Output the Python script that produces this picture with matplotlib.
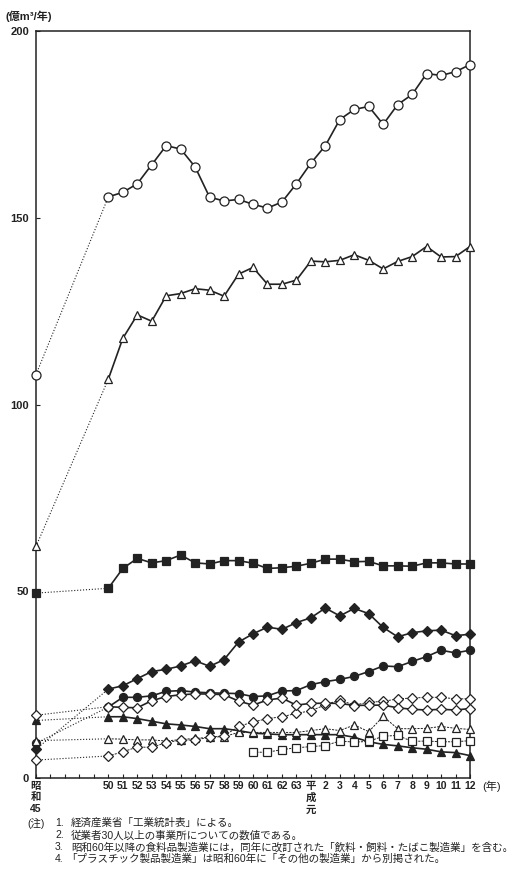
import matplotlib

matplotlib.use("Agg")
import matplotlib.pyplot as plt  # noqa: E402

plt.rcParams["font.family"] = ["Liberation Sans", "Noto Sans CJK JP"]

# x positions: Showa 45 (1970) then Showa 50 (1975) .. Heisei 12 (2000)
YEAR_START = 1970
YEARS = list(range(1975, 2001))
YEARS_PLASTIC = list(range(1985, 2001))

# values (億m³/年); first value = 昭和45, rest = 50..12
circle_open = [108.0, 155.6, 156.8, 159.1, 164.2, 169.3, 168.4, 163.6, 155.5, 154.5, 154.9,
               153.6, 152.6, 154.2, 159.1, 164.6, 169.3, 176.3, 179.0, 179.8, 175.0, 180.3,
               183.0, 188.6, 188.1, 189.1, 191.0]
tri_open_hi = [62.0, 106.8, 117.7, 124.0, 122.3, 129.1, 129.7, 131.0, 130.6, 129.0, 134.9,
               136.7, 132.2, 132.2, 133.3, 138.4, 138.2, 138.6, 140.1, 138.6, 136.3, 138.3,
               139.6, 142.3, 139.5, 139.6, 142.3]
square_filled = [49.5, 50.8, 56.1, 58.8, 57.6, 58.2, 59.7, 57.6, 57.3, 58.2, 58.2,
                 57.5, 56.1, 56.3, 56.7, 57.5, 58.6, 58.6, 57.9, 58.0, 56.8, 56.8,
                 56.7, 57.6, 57.6, 57.3, 57.3]
diamond_filled = [7.7, 23.8, 24.7, 26.6, 28.5, 29.1, 30.0, 31.4, 29.9, 31.7, 36.4,
                  38.6, 40.4, 39.8, 41.6, 42.9, 45.5, 43.4, 45.4, 44.0, 40.3, 37.8,
                  38.9, 39.4, 39.6, 38.1, 38.5]
circle_filled = [9.3, 19.0, 21.6, 21.6, 22.0, 23.2, 23.4, 23.0, 22.8, 22.7, 22.6,
                 21.8, 22.0, 23.3, 23.4, 25.0, 25.8, 26.4, 27.2, 28.5, 30.0, 29.8,
                 31.2, 32.5, 34.2, 33.5, 34.2]
diamond_open_a = [16.8, 19.1, 18.9, 18.8, 20.7, 21.8, 22.3, 22.5, 22.5, 22.3, 20.6,
                  19.5, 20.9, 21.4, 19.5, 20.0, 20.0, 20.0, 19.4, 19.5, 19.5, 18.8,
                  18.4, 18.2, 18.4, 18.2, 18.6]
diamond_open_b = [4.8, 5.9, 7.0, 8.3, 8.2, 9.5, 10.1, 10.2, 10.9, 11.3, 13.8,
                  15.0, 15.9, 16.4, 17.3, 18.0, 19.6, 20.9, 19.5, 20.3, 20.5, 21.2,
                  21.4, 21.6, 21.6, 21.2, 21.2]
tri_open_lo = [10.0, 10.5, 10.4, 10.2, 10.2, 9.9, 10.3, 10.6, 10.9, 11.1, 12.2,
               12.2, 12.2, 12.2, 12.2, 12.7, 13.2, 12.7, 14.2, 12.4, 16.5, 13.2,
               13.2, 13.3, 13.8, 13.3, 13.0]
tri_filled = [15.4, 16.4, 16.4, 15.9, 15.2, 14.5, 14.2, 13.8, 13.2, 13.2, 12.7,
              12.0, 11.8, 11.6, 11.6, 11.6, 11.6, 11.6, 10.9, 9.7, 9.0, 8.6,
              8.1, 7.7, 7.0, 6.8, 6.0]
square_open = [6.9, 6.9, 7.6, 8.1, 8.4, 8.7, 9.9, 9.6, 9.8, 11.2, 11.4, 9.8, 9.9, 9.7, 9.7, 10.0]

XTICKS = list(range(1970, 2001))
XLABELS = (["昭\n和\n45", "", "", "", ""]
           + [str(y) for y in range(50, 64)]
           + ["平\n成\n元"] + [str(y) for y in range(2, 13)])

NOTES = [
    ("(注)", "1.", "経済産業省「工業統計表」による。"),
    ("", "2.", "従業者30人以上の事業所についての数値である。"),
    ("", "3.", "昭和60年以降の食料品製造業には，同年に改訂された「飲料・飼料・たばこ製造業」を含む。"),
    ("", "4.", "「プラスチック製品製造業」は昭和60年に「その他の製造業」から別掲された。"),
]

INK = "#222222"
W, H = 515, 880

fig = plt.figure(figsize=(W / 100, H / 100), dpi=100)
ax = fig.add_axes([36 / W, 1 - 778 / H, (470 - 36) / W, (778 - 31) / H])


def series(vals, marker, filled, ms, thin=False, z=3):
    face = INK if filled else "white"
    # dotted link 昭和45 -> 50
    ax.plot([YEAR_START, YEARS[0]], vals[:2], ls=":", lw=0.8, color=INK, zorder=2)
    ax.plot([YEAR_START], vals[:1], ls="none", marker=marker, ms=ms, mfc=face, mec=INK,
            mew=0.9, clip_on=False, zorder=z)
    ax.plot(YEARS, vals[1:], ls=(0, (2.2, 1.2)) if thin else "-", lw=0.7 if thin else 1.2,
            color=INK, marker=marker, ms=ms, mfc=face, mec=INK, mew=0.9, clip_on=False, zorder=z)


series(circle_open, "o", False, 6.5)
series(tri_open_hi, "^", False, 6.3)
series(square_filled, "s", True, 5.8)
series(diamond_filled, "D", True, 5.0)
series(circle_filled, "o", True, 5.8)
series(tri_filled, "^", True, 5.8)
series(tri_open_lo, "^", False, 5.8, thin=True)
series(diamond_open_b, "D", False, 5.0, thin=True)
series(diamond_open_a, "D", False, 5.0, z=4)
ax.plot(YEARS_PLASTIC, square_open, ls=(0, (2.2, 1.2)), lw=0.7, color=INK, marker="s", ms=5.8,
        mfc="white", mec=INK, mew=0.9, clip_on=False, zorder=3)

ax.set_xlim(1970, 2000)
ax.set_ylim(0, 200)
ax.set_yticks([0, 50, 100, 150, 200])
ax.set_xticks(XTICKS)
ax.set_xticklabels(XLABELS, fontsize=7.5, fontweight="bold", color=INK, linespacing=1.2,
                   va="top")
ax.tick_params(axis="x", direction="in", length=3, width=0.8, pad=2, colors=INK)
ax.tick_params(axis="y", direction="in", length=3, width=0.8, pad=5, labelsize=8,
               colors=INK)
for t in ax.get_yticklabels():
    t.set_fontweight("bold")
for s in ax.spines.values():
    s.set_linewidth(1.1)
    s.set_color(INK)

fig.text(5 / W, 1 - 16 / H, "(億m³/年)", fontsize=8, fontweight="bold", color=INK,
         va="center")
fig.text(482 / W, 1 - 786 / H, "(年)", fontsize=8, color=INK, va="center")

for i, (head, num, body) in enumerate(NOTES):
    y = 1 - (823 + 12 * i) / H
    if head:
        fig.text(27 / W, y, head, fontsize=7.5, color=INK, va="center")
    fig.text(55 / W, y, num, fontsize=7.5, color=INK, va="center")
    fig.text((66 if body.startswith("「") else 71) / W, y, body, fontsize=7.6, color=INK,
             va="center")

fig.savefig("out.png", dpi=100)
